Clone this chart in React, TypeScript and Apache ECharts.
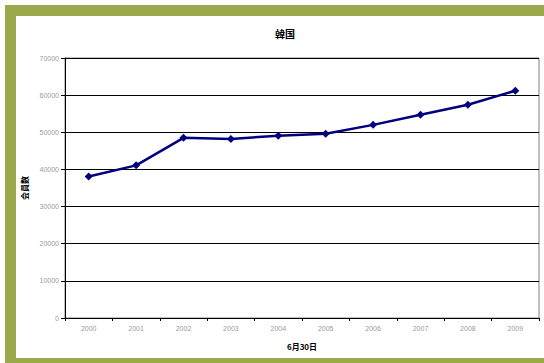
import React, { useEffect, useRef } from "react";
import * as echarts from "echarts";

const titleText = "韓国";
const yAxisName = "会員数";
const xAxisName = "6月30日";
const years = ["2000", "2001", "2002", "2003", "2004", "2005", "2006", "2007", "2008", "2009"];
const members = [38100, 41100, 48500, 48200, 49100, 49600, 52000, 54700, 57400, 61200];

const GREEN = "#9BA84B";

export default function App() {
  const ref = useRef<HTMLDivElement>(null);
  useEffect(() => {
    if (!ref.current) return;
    const chart = echarts.init(ref.current, null, { renderer: "svg" });
    chart.setOption({
      animation: false,
      backgroundColor: "#ffffff",
      title: {
        text: titleText,
        left: 280,
        top: 23,
        textAlign: "center",
        textStyle: {
          fontFamily: "Noto Sans CJK JP",
          fontSize: 10,
          fontWeight: "bold",
          color: "#000",
        },
      },
      graphic: [
        { type: "rect", shape: { x: 5, y: 5, width: 539, height: 11 }, style: { fill: GREEN } },
        { type: "rect", shape: { x: 5, y: 5, width: 11, height: 358 }, style: { fill: GREEN } },
        { type: "rect", shape: { x: 5, y: 358, width: 539, height: 5 }, style: { fill: GREEN } },
      ],
      grid: {
        left: 65,
        top: 58,
        width: 474,
        height: 260,
        show: true,
        borderColor: "#808080",
        borderWidth: 1,
      },
      xAxis: {
        type: "category",
        data: years,
        boundaryGap: true,
        name: xAxisName,
        nameLocation: "middle",
        nameGap: 24,
        nameTextStyle: {
          fontFamily: "Noto Sans CJK JP",
          fontSize: 8,
          fontWeight: "bold",
          color: "#000",
        },
        axisLine: { lineStyle: { color: "#000", width: 1 } },
        axisTick: { show: true, inside: false, length: 3, alignWithLabel: false, lineStyle: { color: "#000" } },
        axisLabel: {
          color: "#999999",
          fontFamily: "Liberation Sans",
          fontSize: 7,
          margin: 7,
        },
        splitLine: { show: false },
      },
      yAxis: {
        type: "value",
        min: 0,
        max: 70000,
        interval: 10000,
        name: yAxisName,
        nameLocation: "middle",
        nameRotate: 90,
        nameGap: 33,
        nameTextStyle: {
          fontFamily: "Noto Sans CJK JP",
          fontSize: 8,
          fontWeight: "bold",
          color: "#000",
        },
        axisLine: { show: true, lineStyle: { color: "#000", width: 1 } },
        axisTick: { show: true, inside: false, length: 4, lineStyle: { color: "#000" } },
        axisLabel: {
          color: "#999999",
          fontFamily: "Liberation Sans",
          fontSize: 7,
          margin: 6,
          formatter: (v: number) => String(v),
        },
        splitLine: { show: true, lineStyle: { color: "#000", width: 1 } },
      },
      series: [
        {
          type: "line",
          data: members,
          symbol: "diamond",
          symbolSize: 8,
          lineStyle: { color: "#000080", width: 2.5 },
          itemStyle: { color: "#000080" },
        },
      ],
    });
    return () => chart.dispose();
  }, []);
  return (
    <div
      ref={ref}
      style={{ position: "fixed", left: 0, top: 0, width: 544, height: 363 }}
    />
  );
}
